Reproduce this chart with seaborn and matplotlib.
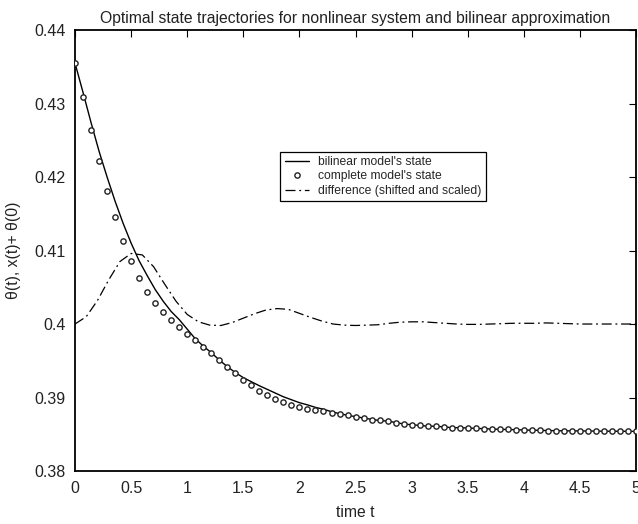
import numpy as np
import pandas as pd
import matplotlib
matplotlib.use("Agg")
import matplotlib.pyplot as plt
import seaborn as sns

# ---- data ----
n_steps = 70
t_state = [i * 5.0 / n_steps for i in range(n_steps + 1)]

complete_state = [
    0.4355, 0.4309, 0.4264, 0.4222, 0.4181, 0.4145, 0.4113, 0.4086, 0.4063, 0.4044,
    0.4029, 0.4016, 0.4005, 0.3996, 0.3987, 0.3978, 0.3969, 0.3961, 0.3951, 0.3942,
    0.3933, 0.3924, 0.3917, 0.3909, 0.3903, 0.3898, 0.3894, 0.3890, 0.3887, 0.3885,
    0.3883, 0.3881, 0.3879, 0.3878, 0.3876, 0.3874, 0.3872, 0.3870, 0.3869, 0.3868,
    0.3866, 0.3864, 0.3863, 0.3862, 0.3861, 0.3861, 0.3860, 0.3859, 0.3859, 0.38585,
    0.3858, 0.38576, 0.38571, 0.38567, 0.38565, 0.38562, 0.38558, 0.38556, 0.38553, 0.38551,
    0.38548, 0.38547, 0.38546, 0.38545, 0.38544, 0.38543, 0.38542, 0.38541, 0.38541, 0.38540,
    0.38540,
]

bilinear_state = [
    0.4355, 0.4315, 0.4274, 0.4235, 0.4200, 0.4167, 0.4137, 0.4110, 0.4086, 0.4066,
    0.4047, 0.4031, 0.4017, 0.4006, 0.3993, 0.3980, 0.3970, 0.3961, 0.3951, 0.3942,
    0.3934, 0.3927, 0.39215, 0.3916, 0.3911, 0.3906, 0.3901, 0.3897, 0.3893, 0.3890,
    0.38866, 0.3884, 0.38807, 0.3878, 0.38758, 0.3874, 0.38721, 0.38703, 0.38686, 0.3868,
    0.3866, 0.3864, 0.3863, 0.3862, 0.3861, 0.3861, 0.3860, 0.3859, 0.3859, 0.38585,
    0.3858, 0.38576, 0.38571, 0.38567, 0.38565, 0.38562, 0.38558, 0.38556, 0.38553, 0.38551,
    0.38548, 0.38547, 0.38546, 0.38545, 0.38544, 0.38543, 0.38542, 0.38541, 0.38541, 0.38540,
    0.38540,
]

t_diff = [round(0.1 * i, 1) for i in range(51)]
difference = [
    0.4000, 0.4010, 0.4032, 0.4060, 0.4085, 0.4096, 0.4094, 0.4078, 0.4054, 0.4031,
    0.4013, 0.4003, 0.39985, 0.3998, 0.4002, 0.4008, 0.4014, 0.4019, 0.4021, 0.4020,
    0.40145, 0.4009, 0.4004, 0.4000, 0.39985, 0.3998, 0.39985, 0.3999, 0.4001, 0.40025,
    0.4003, 0.4003, 0.4002, 0.4001, 0.4000, 0.39995, 0.39995, 0.4000, 0.40005, 0.4001,
    0.4001, 0.4001, 0.40015, 0.4001, 0.40005, 0.4000, 0.4000, 0.4000, 0.4000, 0.4000,
    0.4000,
]

x_ticks = [0, 0.5, 1, 1.5, 2, 2.5, 3, 3.5, 4, 4.5, 5]
x_tick_labels = ["0", "0.5", "1", "1.5", "2", "2.5", "3", "3.5", "4", "4.5", "5"]
y_ticks = [0.38, 0.39, 0.40, 0.41, 0.42, 0.43, 0.44]
y_tick_labels = ["0.38", "0.39", "0.4", "0.41", "0.42", "0.43", "0.44"]

labels = ["bilinear model's state", "complete model's state", "difference (shifted and scaled)"]

# ---- plotting ----
sns.set_theme(style="white")
plt.rcParams["font.family"] = ["Liberation Sans", "DejaVu Sans"]
plt.rcParams["xtick.direction"] = "in"
plt.rcParams["ytick.direction"] = "in"

fig = plt.figure(figsize=(6.38, 5.24), dpi=100)
ax = fig.add_axes([0.1176, 0.1011, 0.8794, 0.8416])

df_state = pd.DataFrame({"t": t_state, "bil": bilinear_state, "comp": complete_state})
df_diff = pd.DataFrame({"t": t_diff, "diff": difference})

sns.lineplot(data=df_state, x="t", y="bil", ax=ax, color="black", lw=1.0,
             label=labels[0], estimator=None, sort=False)
ax.plot(df_state["t"], df_state["comp"], linestyle="none", marker="o",
        markersize=3.8, markerfacecolor="white", markeredgecolor="#222222",
        markeredgewidth=1.0, label=labels[1], zorder=3)
sns.lineplot(data=df_diff, x="t", y="diff", ax=ax, color="black", lw=0.9,
             label=labels[2], estimator=None, sort=False)
ax.lines[-1].set_dashes([8, 3, 1.5, 3])

ax.set_xlim(0, 5)
ax.set_ylim(0.38, 0.44)
ax.set_xticks(x_ticks)
ax.set_xticklabels(x_tick_labels)
ax.set_yticks(y_ticks)
ax.set_yticklabels(y_tick_labels)
ax.tick_params(axis="both", which="both", direction="in", length=5, width=0.8,
               labelsize=11.5, color="black", labelcolor="#222222", top=True, right=True)
ax.tick_params(axis="x", pad=7)
ax.tick_params(axis="y", pad=7)
for sp in ax.spines.values():
    sp.set_color("black")
    sp.set_linewidth(1.3)
    sp.set_visible(True)

ax.set_title("Optimal state trajectories for nonlinear system and bilinear approximation",
             fontsize=11.3, color="#222222", pad=5)
ax.set_xlabel("time t", fontsize=11.3, color="#222222", labelpad=7)
ax.set_ylabel("θ(t), x(t)+ θ(0)", fontsize=11.3, color="#222222", labelpad=9)

leg = ax.legend(loc="upper left", bbox_to_anchor=(0.366, 0.724), fontsize=8.7,
                frameon=True, fancybox=False, edgecolor="black", framealpha=1,
                handlelength=2.0, borderpad=0.35, labelspacing=0.2, handletextpad=0.8,
                borderaxespad=0)
leg.get_frame().set_linewidth(0.9)

fig.savefig("out.png", dpi=100)
